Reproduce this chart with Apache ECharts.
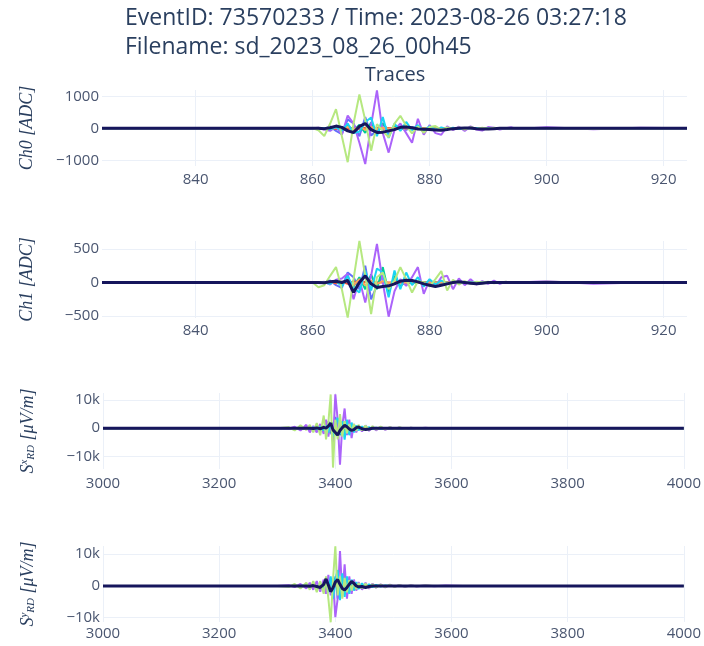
<!DOCTYPE html>
<html>
<head>
<meta charset="utf-8">
<script src="https://cdn.jsdelivr.net/npm/echarts@6/dist/echarts.min.js"></script>
<style>html,body{margin:0;padding:0;background:#fff}#c{width:704px;height:646px}</style>
</head>
<body>
<div id="c"></div>
<script>
// ---------- data ----------
const TITLE_1 = 'EventID: 73570233 / Time: 2023-08-26 03:27:18';
const TITLE_2 = 'Filename: sd_2023_08_26_00h45';
const SUBTITLE = 'Traces';

// sample index (panels Ch0 / Ch1)
const CH_X = [824, 858,
  860,861,862,863,864,865,866,867,868,869,
  870,871,872,873,874,875,876,877,878,879,
  880,881,882,883,884,885,886,887,888,889,
  890,891,892,893,894,895,
  900, 908, 916, 924];

const CH0_BLUE   = [0,0, 0,0,-20,60,-80,-180,280,150,-250,350, -220,-80,150,-180,90,0,-50,30,0,-20, 10,0,0,0,0,0,0,0,0,0, 0,0,0,0,0,0, 0,0,0,0];
const CH0_RED    = [0,0, 0,0,0,10,-20,20,-30,30,-20,20, -20,10,-10,10,0,0,0,0,0,0, 0,0,0,0,0,0,0,0,0,0, 0,0,0,0,0,0, 0,0,0,0];
const CH0_TEAL   = [0,0, 0,0,0,0,20,-50,90,-70,110,-140, 180,-180,160,-90,60,-40,20,-10,0,0, 0,0,0,0,0,0,0,0,0,0, 0,0,0,0,0,0, 0,0,0,0];
const CH0_PURPLE = [0,0, 0,20,-40,-80,60,-200,400,150,-450,-1120, 100,1190,-150,-760,-50,150,-150,-450,300,-200, 100,-150,-200,60,-60,50,-80,60,-40,-70, 40,20,-40,0,30,-20, 30,-30,20,0];
const CH0_ORANGE = [0,0, 0,0,10,-20,30,-40,50,-50,60,-50, 40,-30,20,-10,10,0,0,0,0,0, 0,0,0,0,0,0,0,0,0,0, 0,0,0,0,0,0, 0,0,0,0];
const CH0_CYAN   = [0,0, 0,0,10,-30,40,-80,150,-150,-100,200, 340,-250,350,-300,150,-80,200,-60,100,-80, 60,-40,30,-30,20,-20,10,0,10,-10, 0,0,0,0,0,0, 0,0,0,0];
const CH0_GREEN  = [0,0, 10,-60,-240,150,600,-250,-1060,150,1060,250, -700,130,-80,-280,150,390,80,-160,60,-140, 40,70,-50,30,-30,30,-40,40,-20,20, -10,20,0,10,0,0, 10,-10,0,0];
const CH0_MEAN   = [0,0, 0,0,-10,20,70,30,-80,-130,60,150, -40,-130,-120,-80,-40,30,40,20,-20,-30, -40,-50,-60,-40,-10,0,10,10,-10,-20, -20,-10,0,0,0,0, 0,0,0,0];

const CH1_BLUE   = [0,0, 0,0,-10,30,-40,-80,150,80,-100,250, -250,-50,100,-100,60,0,-30,20,0,0, 0,0,0,0,0,0,0,0,0,0, 0,0,0,0,0,0, 0,0,0,0];
const CH1_RED    = [0,0, 0,0,0,5,-10,10,-20,20,-10,10, -10,5,0,0,0,0,0,0,0,0, 0,0,0,0,0,0,0,0,0,0, 0,0,0,0,0,0, 0,0,0,0];
const CH1_TEAL   = [0,0, 0,0,0,0,10,-30,50,-60,80,-100, 120,-100,230,-150,100,-60,40,-20,10,0, 0,0,0,0,0,0,0,0,0,0, 0,0,0,0,0,0, 0,0,0,0];
const CH1_PURPLE = [0,0, 0,0,10,-30,40,60,130,-250,50,-300, 100,575,0,-510,-130,50,-50,80,230,-170, 40,-60,80,100,-100,60,-40,50,-30,20, -20,30,-20,10,0,0, 20,-20,0,0];
const CH1_ORANGE = [0,0, 0,0,5,-10,20,-30,40,-40,50,-40, 30,-20,20,-10,10,0,0,0,0,0, 0,0,0,0,0,0,0,0,0,0, 0,0,0,0,0,0, 0,0,0,0];
const CH1_CYAN   = [0,0, 0,0,0,-20,30,-60,100,-80,-150,180, -120,210,150,-220,180,-100,150,-40,80,-60, 50,-30,30,-20,10,-10,0,0,0,0, 0,0,0,0,0,0, 0,0,0,0];
const CH1_GREEN  = [0,0, 0,-70,-40,100,230,-100,-525,50,620,100, -470,80,150,-100,30,230,50,-150,20,0, -60,50,170,-120,40,-30,20,-20,10,0, 10,-10,0,10,0,0, 10,0,0,0];
const CH1_MEAN   = [0,0, 0,0,-5,10,20,0,30,-145,0,100, -20,-75,-60,-50,-20,20,35,30,10,-20, -40,-60,-40,-20,0,10,0,-10,-20,-10, 0,0,0,0,0,0, 0,0,0,0];

// time (panels S^x_RD / S^y_RD)
const S_X = [3000,3300,3320,3330,3340,3350,3356,3362,3368,3374,
  3380,3384,3388,3392,3396,3400,3404,3408,3412,3416,
  3420,3424,3428,3432,3436,3440,3446,3452,3458,3464,
  3470,3478,3486,3494,3502,3510,3520,3530,3540,3555,
  3570,3590,3620,4000];

const SX_BLUE   = [0,0,0,0,0,0,100,-200,300,-500, 800,-1000,2500,-1500,-3000,4000,-2000,1500,-2500,1500, -1000,800,-600,400,-300,200,0,0,0,0, 0,0,0,0,0,0,0,0,0,0, 0,0,0,0];
const SX_RED    = [0,0,0,0,0,0,0,0,0,0, 0,100,-200,300,-300,200,-200,100,0,0, 0,0,0,0,0,0,0,0,0,0, 0,0,0,0,0,0,0,0,0,0, 0,0,0,0];
const SX_TEAL   = [0,0,0,0,0,0,0,0,0,0, 300,-600,1000,-1500,2000,-2500,3000,-2500,2000,-1500, 1500,-1000,800,-600,400,-300,200,0,0,0, 0,0,0,0,0,0,0,0,0,0, 0,0,0,0];
const SX_PURPLE = [0,0,-200,500,-800,1200,-1500,800,-1500,1500, -2000,3000,-3000,2000,-5000,12000,3000,-13000,1000,7000, -2500,3000,-3500,1500,-1500,800,-1200,1000,-1000,600, -800,500,-600,400,-300,300,-300,200,-100,200, -100,100,0,0];
const SX_ORANGE = [0,0,0,0,0,0,0,0,0,0, 100,-200,300,800,-600,500,-400,300,-200,100, 0,0,0,0,0,0,0,0,0,0, 0,0,0,0,0,0,0,0,0,0, 0,0,0,0];
const SX_CYAN   = [0,0,0,0,0,100,-200,300,-400,500, -800,1000,-1500,2000,-3000,1500,3700,-2000,2500,-4100, 3000,-2500,2000,-1500,1000,-800,600,-500,400,-300, 200,-200,100,0,0,0,0,0,0,0, 0,0,0,0];
const SX_GREEN  = [0,0,300,-800,1000,-600,1200,-1500,1800,-2500, 4500,-4000,2000,12000,-14000,3000,-4000,5000,-3000,2500, -1800,1500,-1200,1500,-1000,1200,-800,900,-600,700, -500,600,-400,400,-300,300,-200,200,-100,100, 0,0,0,0];
const SX_MEAN   = [0,0,0,0,0,0,0,-100,100,-200, 300,0,700,1800,-600,-1500,-2400,-800,200,1000, 500,-300,-800,-500,200,400,-200,-500,-300,0, 0,0,0,0,0,0,0,0,0,0, 0,0,0,0];

const SY_BLUE   = [0,0,0,0,0,0,0,0,0,300, -600,1000,-1500,2500,-3500,3000,-4000,2000,-2500,1500, -1000,800,-500,300,-200,100,0,0,0,0, 0,0,0,0,0,0,0,0,0,0, 0,0,0,0];
const SY_RED    = [0,0,0,0,0,0,0,0,0,0, 0,100,-100,200,-200,100,-100,0,0,0, 0,0,0,0,0,0,0,0,0,0, 0,0,0,0,0,0,0,0,0,0, 0,0,0,0];
const SY_TEAL   = [0,0,0,0,0,0,0,0,0,0, 0,500,-800,1200,-1500,2500,-2000,2500,-1800,1500, -1200,1000,-800,600,-400,300,-200,0,0,0, 0,0,0,0,0,0,0,0,0,0, 0,0,0,0];
const SY_PURPLE = [0,0,200,-400,600,-800,1000,-1200,1500,-1800, 2000,-2500,3500,-3000,2000,-9900,-4000,11000,-3000,6800, -4000,3000,-2500,2000,-1500,1200,-1200,1000,-900,700, -600,500,-500,400,-300,300,-300,200,-200,200, -100,100,0,0];
const SY_ORANGE = [0,0,0,0,0,0,0,0,0,0, 0,-100,200,-500,300,600,-400,300,-200,100, 0,0,0,0,0,0,0,0,0,0, 0,0,0,0,0,0,0,0,0,0, 0,0,0,0];
const SY_CYAN   = [0,0,0,0,0,200,-300,400,-600,800, -1000,1500,-2000,3000,-4000,2000,5000,-4500,4000,-3500, 3000,-2500,2000,-1500,1200,-1000,800,-600,500,-400, 300,-200,100,0,0,0,0,0,0,0, 0,0,0,0];
const SY_GREEN  = [0,0,-300,600,-800,1000,-1200,1500,-2000,1500, -2500,3000,-4000,-11500,2000,12500,-3000,3000,-4000,2500, -2000,1800,-1500,1200,-1000,900,-800,700,-600,500, -500,400,-400,300,-300,200,-200,100,-100,100, 0,0,0,0];
const SY_MEAN   = [0,0,0,0,0,0,-100,100,-200,-500, 500,2200,300,-1800,-600,1200,2000,500,-800,-1300, -500,500,1400,800,0,-300,-200,-500,-200,0, 0,0,0,0,0,0,0,0,0,0, 0,0,0,0];

const CH_TICKS = [840, 860, 880, 900, 920];
const Y0_TICKS = [-1000, 0, 1000];
const Y1_TICKS = [-500, 0, 500];
const YS_TICKS = [-10000, 0, 10000];

// ---------- chart ----------
const COLORS = ['#636efa', '#EF553B', '#00cc96', '#ab63fa', '#FFA15A', '#19d3f3', '#B6E880'];
const MEAN_COLOR = '#16165c';
const TXT = '#2a3f5f';
const TICK = '#4a5670';
const GRID = '#ebf0f8';
const FONT = '"Open Sans", "Noto Sans", sans-serif';

const panels = [
  { x: CH_X, ys: [CH0_BLUE, CH0_RED, CH0_TEAL, CH0_PURPLE, CH0_ORANGE, CH0_CYAN, CH0_GREEN], mean: CH0_MEAN,
    grid: {left: 102, right: 17, top: 90, height: 76}, xr: [824, 924], xt: CH_TICKS, yr: [-1180, 1200], yt: Y0_TICKS,
    name: '{i|Ch0 [ADC]}', xm: 6 },
  { x: CH_X, ys: [CH1_BLUE, CH1_RED, CH1_TEAL, CH1_PURPLE, CH1_ORANGE, CH1_CYAN, CH1_GREEN], mean: CH1_MEAN,
    grid: {left: 102, right: 17, top: 241, height: 77}, xr: [824, 924], xt: CH_TICKS, yr: [-530, 620], yt: Y1_TICKS,
    name: '{i|Ch1 [ADC]}', xm: 5 },
  { x: S_X, ys: [SX_BLUE, SX_RED, SX_TEAL, SX_PURPLE, SX_ORANGE, SX_CYAN, SX_GREEN], mean: SX_MEAN,
    grid: {left: 103, right: 17, top: 393, height: 76}, xr: [3000, 4000], xi: 200, yr: [-14500, 12500], yt: YS_TICKS,
    name: '{i|S}{sup|x}{sub|RD}{i| [μV/m]}', xm: 7 },
  { x: S_X, ys: [SY_BLUE, SY_RED, SY_TEAL, SY_PURPLE, SY_ORANGE, SY_CYAN, SY_GREEN], mean: SY_MEAN,
    grid: {left: 103, right: 17, top: 546, height: 76}, xr: [3000, 4000], xi: 200, yr: [-11400, 12600], yt: YS_TICKS,
    name: '{i|S}{sup|y}{sub|RD}{i| [μV/m]}', xm: 4 }
];

function fmtY(v) {
  const s = Math.abs(v) >= 10000 ? (Math.abs(v) / 1000) + 'k' : String(Math.abs(v));
  return (v < 0 ? '\u2212' : '') + s;
}

const grids = [], xAxes = [], yAxes = [], series = [];
panels.forEach((p, k) => {
  grids.push(p.grid);
  const xa = {
    type: 'value', gridIndex: k, min: p.xr[0], max: p.xr[1],
    axisLine: {show: false}, axisTick: {show: false},
    splitLine: {show: true, lineStyle: {color: GRID, width: 1}},
    axisLabel: {color: TICK, fontSize: 15, fontFamily: FONT, margin: p.xm, showMinLabel: true, showMaxLabel: true,
      formatter: v => String(v)}
  };
  if (p.xt) { xa.axisLabel.customValues = p.xt; xa.axisTick.customValues = p.xt; }
  else { xa.interval = p.xi; }
  xAxes.push(xa);
  yAxes.push({
    type: 'value', gridIndex: k, min: p.yr[0], max: p.yr[1],
    axisLine: {show: false}, axisTick: {show: false, customValues: p.yt},
    splitLine: {show: true, lineStyle: {color: GRID, width: 1}},
    axisLabel: {customValues: p.yt, color: TICK, fontSize: 15, fontFamily: FONT, margin: 3, formatter: fmtY},
    name: p.name, nameLocation: 'middle', nameRotate: 90, nameGap: 66,
    nameTextStyle: {
      color: TXT,
      rich: {
        i: {fontFamily: '"Liberation Serif", "DejaVu Serif", serif', fontStyle: 'italic', fontSize: 18, color: TXT},
        sup: {fontFamily: '"Liberation Serif", serif', fontStyle: 'italic', fontSize: 11, color: TXT, verticalAlign: 'top'},
        sub: {fontFamily: '"Liberation Serif", serif', fontStyle: 'italic', fontSize: 11, color: TXT, verticalAlign: 'bottom'}
      }
    }
  });
  p.ys.forEach((ys, j) => {
    series.push({
      type: 'line', xAxisIndex: k, yAxisIndex: k, showSymbol: false, silent: true,
      data: p.x.map((x, i) => [x, ys[i]]),
      lineStyle: {color: COLORS[j], width: 2}, itemStyle: {color: COLORS[j]}
    });
  });
  series.push({
    type: 'line', xAxisIndex: k, yAxisIndex: k, showSymbol: false, silent: true,
    data: p.x.map((x, i) => [x, p.mean[i]]),
    lineStyle: {color: MEAN_COLOR, width: 3}, itemStyle: {color: MEAN_COLOR}
  });
});

const chart = echarts.init(document.getElementById('c'), null, {renderer: 'canvas'});
chart.setOption({
  animation: false,
  backgroundColor: '#fff',
  grid: grids, xAxis: xAxes, yAxis: yAxes, series: series,
  graphic: [
    {type: 'text', left: 125, top: 7, style: {text: TITLE_1, fontSize: 23, fontFamily: FONT, fill: TXT}},
    {type: 'text', left: 125, top: 36, style: {text: TITLE_2, fontSize: 23, fontFamily: FONT, fill: TXT}},
    {type: 'text', x: 395, y: 75, style: {text: SUBTITLE, fontSize: 20, fontFamily: FONT, fill: TXT, align: 'center', verticalAlign: 'middle'}}
  ]
});
</script>
</body>
</html>
